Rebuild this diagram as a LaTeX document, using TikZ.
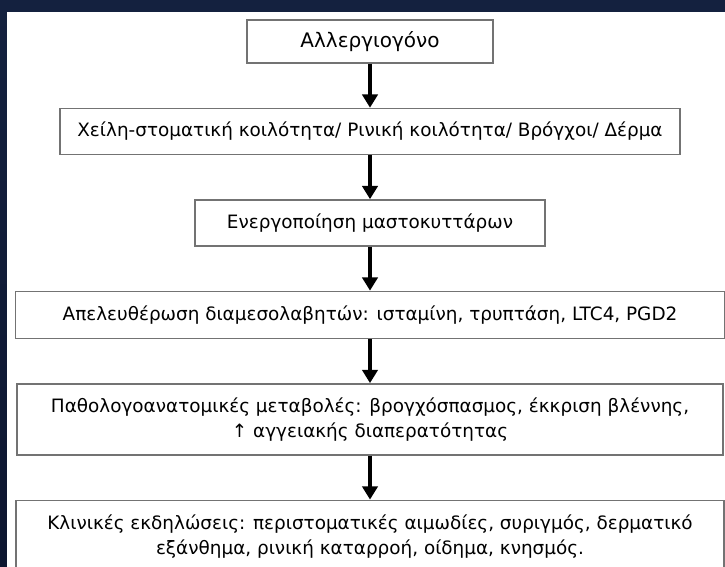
\documentclass[tikz,border=0pt]{standalone}
\usepackage{fontspec}
\setmainfont{DejaVu Sans}
\usetikzlibrary{positioning, arrows.meta}

\definecolor{navytop}{HTML}{14213F}
\definecolor{navymid}{HTML}{1D4468}
\definecolor{navybot}{HTML}{0D1630}

\begin{document}
\begin{tikzpicture}[x=0.75pt, y=-0.75pt, node distance=33pt,
	box/.style={draw=black!55, line width=1.1pt, fill=white, inner sep=0pt,
		align=center, font=\fontsize{13.8}{19}\selectfont},
	flow/.style={-{Triangle[width=11.5pt, length=10pt]}, line width=3pt}]
	% background and white panel
	\shade[top color=navytop, middle color=navymid, bottom color=navybot] (0,0) rectangle (725,567);
	\fill[white] (7,12) rectangle (725,567);
	\useasboundingbox (0,0) rectangle (725,567);

	\node[box, minimum width=184.5pt, minimum height=32.25pt, font=\fontsize{15}{19}\selectfont] (allergen) at (370,41.5) {Αλλεργιογόνο};
	\node[box, below=of allergen, minimum width=465pt, minimum height=34.5pt] (sites) {Χείλη-στοματική κοιλότητα/ Ρινική κοιλότητα/ Βρόγχοι/ Δέρμα};
	\node[box, below=of sites, minimum width=262.5pt, minimum height=34.5pt] (mast) {Ενεργοποίηση μαστοκυττάρων};
	\node[box, below=of mast, minimum width=531.75pt, minimum height=35.25pt] (release) {Απελευθέρωση διαμεσολαβητών: ισταμίνη, τρυπτάση, LTC4, PGD2};
	\node[box, below=of release, minimum width=529.5pt, minimum height=53.25pt] (patho) {Παθολογοανατομικές μεταβολές: βρογχόσπασμος, έκκριση βλέννης,\\ ↑ αγγειακής διαπερατότητας};
	\node[box, below=of patho, minimum width=531pt, minimum height=54.75pt] (clinic) {Κλινικές εκδηλώσεις: περιστοματικές αιμωδίες, συριγμός, δερματικό\\ εξάνθημα, ρινική καταρροή, οίδημα, κνησμός.};

	\draw [flow]
		(allergen) edge (sites)
		(sites) edge (mast)
		(mast) edge (release)
		(release) edge (patho)
		(patho) edge (clinic)
		;
\end{tikzpicture}
\end{document}
